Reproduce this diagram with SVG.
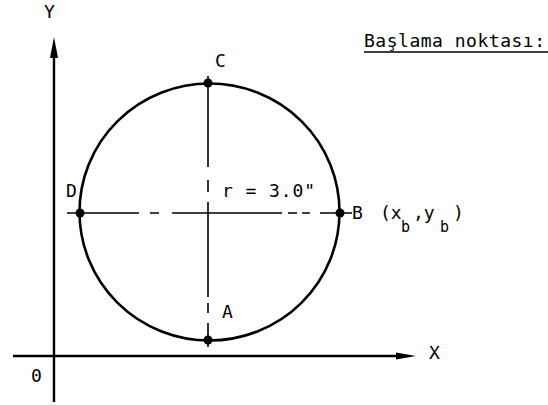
<svg xmlns="http://www.w3.org/2000/svg" width="548" height="405" viewBox="0 0 548 405">
<style>
.t{font-family:"DejaVu Sans Mono","Liberation Mono",monospace;font-size:18px;fill:#000}
.s{font-size:15px}
.ln{stroke:#000;fill:none;stroke-width:1.6}
.ax{stroke:#000;fill:none;stroke-width:2.4}
</style>
<rect width="548" height="405" fill="#fff"/>
<g id="connectors">
<line class="ax" x1="54" y1="52" x2="54" y2="402"/>
<polygon points="54,37 50,58 58,58" fill="#000"/>
<line class="ax" x1="13" y1="356" x2="400" y2="356"/>
<polygon points="416,356 396,352.5 396,359.5" fill="#000"/>
<path class="ln" d="M67,213 H139 M150,213 H159 M172,213 H282 M288,213 H297 M302,213 H310 M320,213 H352"/>
<path class="ln" d="M208,76 V167 M208,180 V192 M208,202 V297 M208,303 V313 M208,323 V347"/>
</g>
<g id="circle">
<ellipse cx="209.5" cy="212" rx="130" ry="128.5" fill="none" stroke="#000" stroke-width="2.6"/>
</g>
<g id="A"><circle cx="208" cy="340" r="4.5"/><text class="t" x="222" y="318">A</text></g>
<g id="B"><circle cx="340" cy="213" r="4.5"/>
<text class="t" x="352" y="219">B<tspan x="380">(x</tspan><tspan class="s" x="401" dy="13">b</tspan><tspan x="413" dy="-13">,y</tspan><tspan class="s" x="440" dy="13">b</tspan><tspan x="453" dy="-13">)</tspan></text>
</g>
<g id="C"><circle cx="208" cy="83" r="4.5"/><text class="t" x="215" y="67">C</text></g>
<g id="D"><circle cx="80" cy="213" r="4.5"/><text class="t" x="66" y="197">D</text></g>
<g id="labels">
<text class="t" x="44" y="18">Y</text>
<text class="t" x="429" y="359">X</text>
<text class="t" x="31" y="382">0</text>
<text class="t" x="222" y="197" textLength="93" lengthAdjust="spacing">r = 3.0"</text>
<text class="t" x="364" y="47" textLength="181" lengthAdjust="spacing">Başlama noktası:</text>
<line x1="364" y1="52" x2="548" y2="52" stroke="#000" stroke-width="1.5"/>
</g>
</svg>
